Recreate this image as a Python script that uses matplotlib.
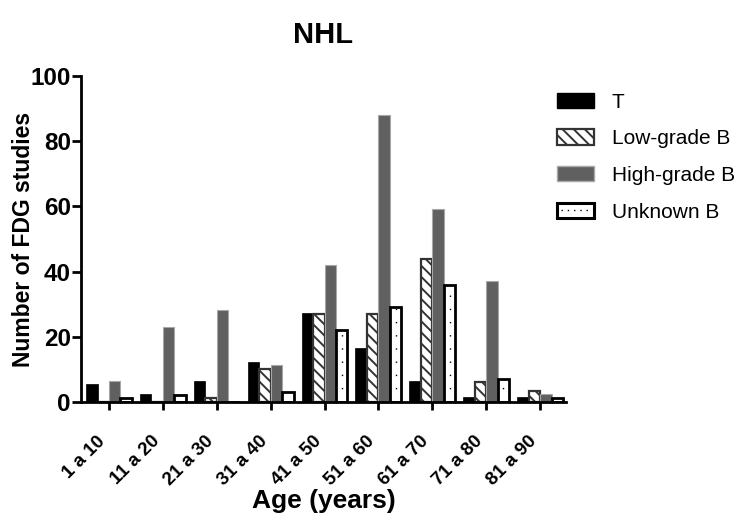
import matplotlib
matplotlib.use('Agg')
import matplotlib.pyplot as plt
import numpy as np
from matplotlib.patches import Rectangle, Patch
from matplotlib.lines import Line2D
from matplotlib.legend_handler import HandlerPatch

plt.rcParams['font.family'] = ['Liberation Sans', 'DejaVu Sans']
plt.rcParams['hatch.linewidth'] = 1.4

categories = ['1 a 10', '11 a 20', '21 a 30', '31 a 40', '41 a 50',
              '51 a 60', '61 a 70', '71 a 80', '81 a 90']
series_names = ['T', 'Low-grade B', 'High-grade B', 'Unknown B']
t_vals = [5.5, 2.5, 6.5, 12.3, 27.2, 16.6, 6.5, 1.6, 1.6]
low_vals = [0, 0, 1.2, 10, 27, 27, 44, 6.2, 3.4]
high_vals = [6.4, 23.1, 28.2, 11.3, 42.1, 88.0, 59.1, 37.2, 2.6]
unk_vals = [1.2, 2.2, 0, 3.2, 22, 29, 36, 7.2, 1.2]
y_ticks = [0, 20, 40, 60, 80, 100]

DOT_STYLE = (0, (1, 8.5))

class HandlerDotted(HandlerPatch):
    def create_artists(self, legend, orig_handle, xdescent, ydescent,
                       width, height, fontsize, trans):
        r = Rectangle((-xdescent, -ydescent), width, height,
                      facecolor='white', edgecolor='black', linewidth=2.2,
                      transform=trans)
        ln = Line2D([-xdescent + 3, -xdescent + width - 3],
                    [-ydescent + height / 2] * 2, color='black',
                    linewidth=1.0, linestyle=(0, (1, 3.5)), transform=trans)
        return [r, ln]

fig = plt.figure(figsize=(7.49, 5.16), dpi=100)
ax = fig.add_axes([0.1081, 0.2209, 0.6475, 0.6318])

x = np.arange(len(categories))
w = 0.213

ax.bar(x - 1.5 * w, t_vals, w, color='black', edgecolor='black',
       linewidth=0.5, label=series_names[0])
ax.bar(x - 0.5 * w, low_vals, w, facecolor='white', edgecolor='#333333',
       linewidth=1.6, hatch='\\\\\\', label=series_names[1])
ax.bar(x + 0.5 * w, high_vals, w, color='#606060', edgecolor='#a8a8a8',
       linewidth=0.8, label=series_names[2])
ub = ax.bar(x + 1.5 * w, unk_vals, w, facecolor='white', edgecolor='black',
            linewidth=2.0, label=series_names[3])
for p in ub:
    h = p.get_height()
    if h > 2:
        cx = p.get_x() + p.get_width() / 2
        ax.plot([cx, cx], [0, h], color='black', linewidth=1.0,
                linestyle=DOT_STYLE, zorder=3)

ax.set_xlim(-0.52, 8.48)
ax.set_ylim(0, 100)
ax.set_yticks(y_ticks)
ax.set_xticks(x)
ax.set_xticklabels(categories, rotation=45, ha='right', va='top',
                   fontsize=13.5, fontweight='bold')
for lbl in ax.get_yticklabels():
    lbl.set_fontweight('bold')
ax.tick_params(axis='y', labelsize=17.5, width=2, length=6.5, pad=0.8)
ax.tick_params(axis='x', width=2, length=6, pad=16)
for s in ['top', 'right']:
    ax.spines[s].set_visible(False)
for s in ['left', 'bottom']:
    ax.spines[s].set_linewidth(2)

ax.set_xlabel('Age (years)', fontsize=19, fontweight='bold', labelpad=0)
ax.set_ylabel('Number of FDG studies', fontsize=16.5, fontweight='bold',
              labelpad=-3)
ax.set_title('NHL', fontsize=21, fontweight='bold', pad=24)

handles = [
    Patch(facecolor='black', edgecolor='black'),
    Patch(facecolor='white', edgecolor='#333333', hatch='\\\\\\', linewidth=1.6),
    Patch(facecolor='#606060', edgecolor='#a8a8a8'),
    Patch(facecolor='white', edgecolor='black'),
]
fig.legend(handles, series_names, loc='upper left',
           bbox_to_anchor=(0.718, 0.857), frameon=False, fontsize=15,
           handlelength=1.8, handleheight=0.75, handletextpad=0.85,
           labelspacing=0.85,
           handler_map={handles[3]: HandlerDotted()})

fig.savefig('out.png', dpi=100)
